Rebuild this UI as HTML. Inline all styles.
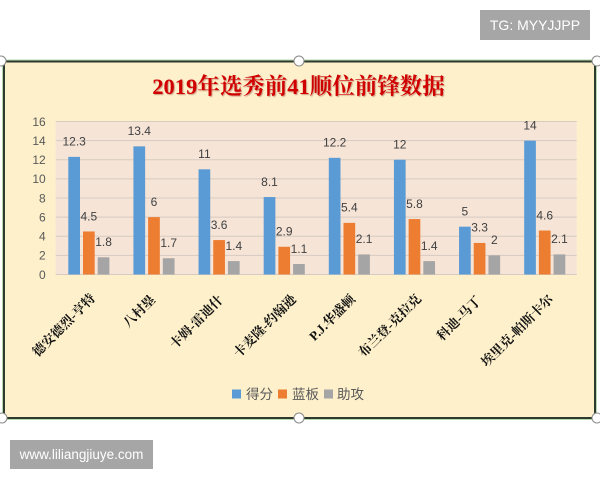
<!DOCTYPE html>
<html><head><meta charset="utf-8"><style>
html,body{margin:0;padding:0;background:#fff;width:600px;height:480px;overflow:hidden}
svg{display:block}
</style></head><body>
<svg width="600" height="480" viewBox="0 0 600 480" xmlns="http://www.w3.org/2000/svg">
<!-- watermark boxes -->
<rect x="480" y="10" width="110" height="30" fill="#a6a6a6"/>
<text x="535" y="30" text-anchor="middle" font-family="Liberation Sans, sans-serif" font-size="14" fill="#fff">TG: MYYJJPP</text>
<rect x="10" y="440" width="143" height="29" fill="#a6a6a6"/>
<text x="81.5" y="459" text-anchor="middle" font-family="Liberation Sans, sans-serif" font-size="13.5" fill="#fff">www.liliangjiuye.com</text>

<!-- frame -->
<rect x="2.5" y="60" width="594" height="359.5" fill="none" stroke="#b8d6b2" stroke-width="1"/>
<rect x="4" y="61.5" width="591" height="356.5" fill="#fdf0cb" stroke="#2c3b2c" stroke-width="2"/>

<!-- title -->
<text x="298.5" y="94" text-anchor="middle" font-family="Liberation Serif, 'Noto Serif CJK SC', serif" font-weight="bold" font-size="22.5" fill="#d00000" style="text-shadow:1px 1px 1px rgba(120,0,0,0.35)">2019年选秀前41顺位前锋数据</text>

<!-- plot area -->
<rect x="55.7" y="121.5" width="521" height="153" fill="#f6e4d7"/>
<g stroke="#d6cbc1" stroke-width="1">
<line x1="55.7" x2="576.7" y1="121.5" y2="121.5"/>
<line x1="55.7" x2="576.7" y1="140.6" y2="140.6"/>
<line x1="55.7" x2="576.7" y1="159.75" y2="159.75"/>
<line x1="55.7" x2="576.7" y1="178.9" y2="178.9"/>
<line x1="55.7" x2="576.7" y1="198" y2="198"/>
<line x1="55.7" x2="576.7" y1="217.1" y2="217.1"/>
<line x1="55.7" x2="576.7" y1="236.25" y2="236.25"/>
<line x1="55.7" x2="576.7" y1="255.4" y2="255.4"/>
<line x1="55.7" x2="576.7" y1="274.5" y2="274.5"/>
</g>

<!-- y ticks -->
<g font-family="Liberation Sans, sans-serif" font-size="12" fill="#595959" text-anchor="end">
<text x="45.7" y="125.8">16</text>
<text x="45.7" y="144.9">14</text>
<text x="45.7" y="164">12</text>
<text x="45.7" y="183.2">10</text>
<text x="45.7" y="202.3">8</text>
<text x="45.7" y="221.4">6</text>
<text x="45.7" y="240.5">4</text>
<text x="45.7" y="259.7">2</text>
<text x="45.7" y="278.8">0</text>
</g>

<!-- bars -->
<g fill="#5b9bd5">
<rect x="68.3" y="156.88" width="11.7" height="117.62"/>
<rect x="133.43" y="146.36" width="11.7" height="128.14"/>
<rect x="198.55" y="169.31" width="11.7" height="105.19"/>
<rect x="263.68" y="197.04" width="11.7" height="77.46"/>
<rect x="328.8" y="157.84" width="11.7" height="116.66"/>
<rect x="393.93" y="159.75" width="11.7" height="114.75"/>
<rect x="459.05" y="226.69" width="11.7" height="47.81"/>
<rect x="524.18" y="140.63" width="11.7" height="133.87"/>
</g>
<g fill="#ed7d31">
<rect x="83" y="231.47" width="11.7" height="43.03"/>
<rect x="148.13" y="217.13" width="11.7" height="57.37"/>
<rect x="213.25" y="240.07" width="11.7" height="34.43"/>
<rect x="278.38" y="246.77" width="11.7" height="27.73"/>
<rect x="343.5" y="222.86" width="11.7" height="51.64"/>
<rect x="408.63" y="219.04" width="11.7" height="55.46"/>
<rect x="473.75" y="242.94" width="11.7" height="31.56"/>
<rect x="538.88" y="230.51" width="11.7" height="43.99"/>
</g>
<g fill="#a5a5a5">
<rect x="97.7" y="257.29" width="11.7" height="17.21"/>
<rect x="162.83" y="258.24" width="11.7" height="16.26"/>
<rect x="227.95" y="261.11" width="11.7" height="13.39"/>
<rect x="293.08" y="263.98" width="11.7" height="10.52"/>
<rect x="358.2" y="254.42" width="11.7" height="20.08"/>
<rect x="423.33" y="261.11" width="11.7" height="13.39"/>
<rect x="488.45" y="255.38" width="11.7" height="19.12"/>
<rect x="553.58" y="254.42" width="11.7" height="20.08"/>
</g>

<!-- data labels -->
<g font-family="Liberation Sans, sans-serif" font-size="12" fill="#404040" text-anchor="middle">
<text x="74.15" y="145.7">12.3</text>
<text x="88.85" y="220.3">4.5</text>
<text x="103.55" y="246.1">1.8</text>
<text x="139.28" y="135.2">13.4</text>
<text x="153.98" y="205.9">6</text>
<text x="168.68" y="247">1.7</text>
<text x="204.4" y="158.1">11</text>
<text x="219.1" y="228.9">3.6</text>
<text x="233.8" y="249.9">1.4</text>
<text x="269.53" y="185.8">8.1</text>
<text x="284.23" y="235.6">2.9</text>
<text x="298.93" y="252.8">1.1</text>
<text x="334.65" y="146.6">12.2</text>
<text x="349.35" y="211.7">5.4</text>
<text x="364.05" y="243.2">2.1</text>
<text x="399.78" y="148.5">12</text>
<text x="414.48" y="207.8">5.8</text>
<text x="429.18" y="249.9">1.4</text>
<text x="464.9" y="215.5">5</text>
<text x="479.6" y="231.7">3.3</text>
<text x="494.3" y="244.2">2</text>
<text x="530.03" y="129.4">14</text>
<text x="544.73" y="219.3">4.6</text>
<text x="559.43" y="243.2">2.1</text>
</g>

<!-- x labels -->
<g font-family="Liberation Serif, 'Noto Serif CJK SC', serif" font-weight="bold" font-size="13" fill="#111" text-anchor="end">
<text transform="translate(96,299) rotate(-45)">德安德烈-亨特</text>
<text transform="translate(156,300.5) rotate(-45)">八村塁</text>
<text transform="translate(224,300.5) rotate(-45)">卡姆-雷迪什</text>
<text transform="translate(297,300) rotate(-45)">卡麦隆-约翰逊</text>
<text transform="translate(356,300) rotate(-45)">P.J.华盛顿</text>
<text transform="translate(422,299.5) rotate(-45)">布兰登-克拉克</text>
<text transform="translate(482,301.5) rotate(-45)">科迪-马丁</text>
<text transform="translate(554,300) rotate(-45)">埃里克-帕斯卡尔</text>
</g>

<!-- legend -->
<rect x="232" y="389.5" width="9" height="9" fill="#5b9bd5"/>
<rect x="278" y="389.5" width="9" height="9" fill="#ed7d31"/>
<rect x="324" y="389.5" width="9" height="9" fill="#a5a5a5"/>
<g font-family="Liberation Sans, 'Noto Sans CJK SC', sans-serif" font-size="13.5" fill="#595959">
<text x="246" y="399">得分</text>
<text x="292" y="399">蓝板</text>
<text x="337" y="399">助攻</text>
</g>

<!-- selection handles -->
<g fill="#fff" stroke="#8a8a8a" stroke-width="1">
<circle cx="1" cy="61" r="5"/>
<circle cx="299" cy="61" r="5"/>
<circle cx="597" cy="61" r="5"/>
<circle cx="2" cy="418" r="5"/>
<circle cx="299" cy="418" r="5"/>
<circle cx="597" cy="418" r="5"/>
</g>
</svg>
</body></html>
